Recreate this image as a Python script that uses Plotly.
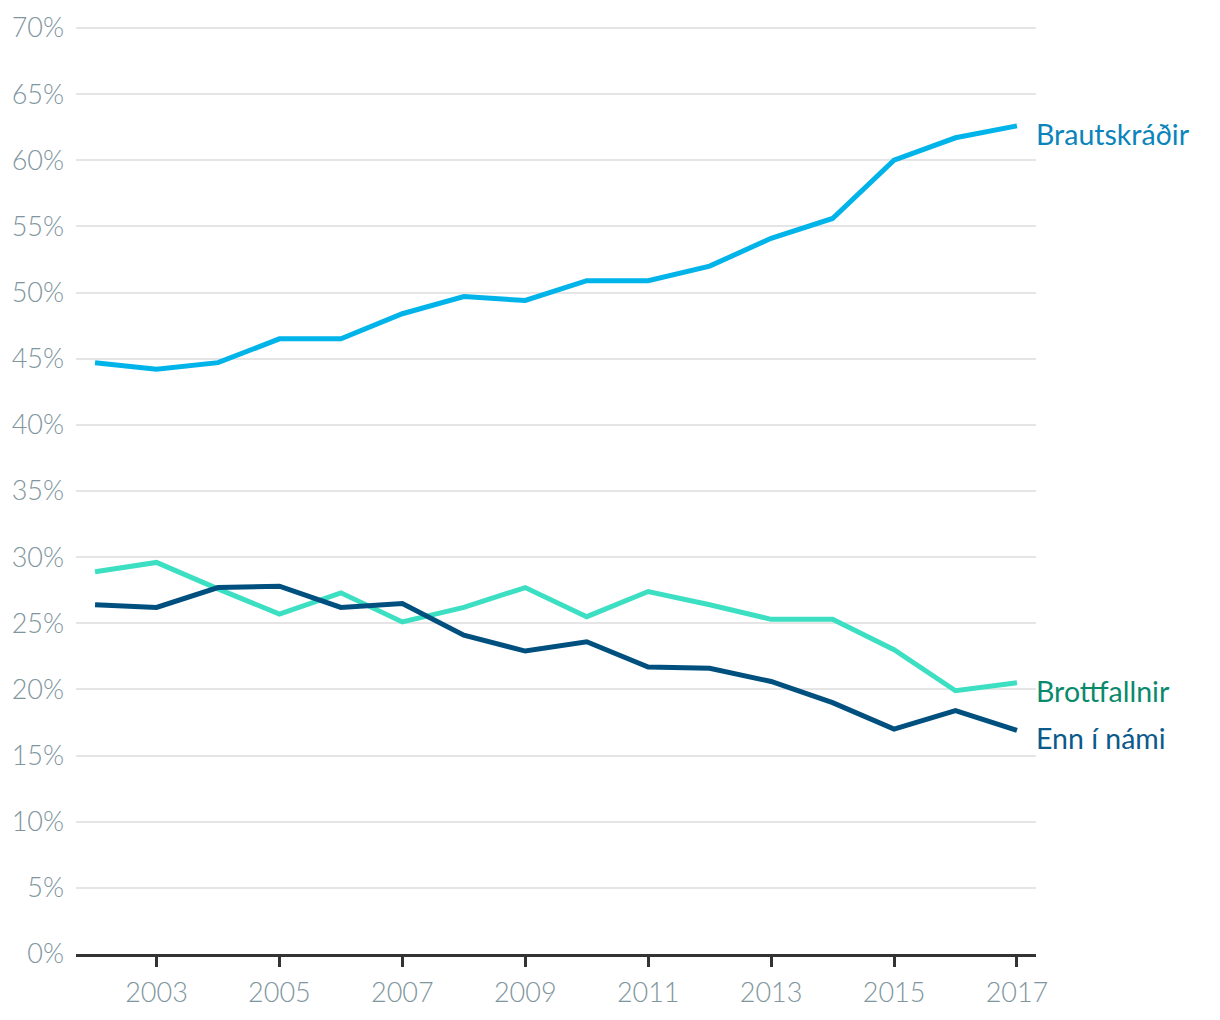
import plotly.graph_objects as go

years = list(range(2002, 2018))
brautskradir = [44.7, 44.2, 44.7, 46.5, 46.5, 48.4, 49.7, 49.4, 50.9, 50.9, 52.0, 54.1, 55.6, 60.0, 61.7, 62.6]
brottfallnir = [28.9, 29.6, 27.6, 25.7, 27.3, 25.1, 26.2, 27.7, 25.5, 27.4, 26.4, 25.3, 25.3, 23.0, 19.9, 20.5]
enn_i_nami = [26.4, 26.2, 27.7, 27.8, 26.2, 26.5, 24.1, 22.9, 23.6, 21.7, 21.6, 20.6, 19.0, 17.0, 18.4, 16.9]

series = [
    ("Brautskráðir", brautskradir, "#00b4ea", "#0a84bb"),
    ("Brottfallnir", brottfallnir, "#3ddfc3", "#0a8a6c"),
    ("Enn í námi", enn_i_nami, "#00507f", "#0b5a8b"),
]

y_ticks = list(range(0, 75, 5))
y_tick_labels = [f"{v}%" for v in y_ticks]
x_ticks = list(range(2003, 2018, 2))

fig = go.Figure()
for name, vals, lc, tc in series:
    fig.add_trace(go.Scatter(x=years, y=vals, mode="lines", name=name,
                             line=dict(color=lc, width=5), showlegend=False))
    fig.add_annotation(x=years[-1], y=vals[-1], text=name, showarrow=False,
                       xanchor="left", yanchor="middle", xshift=17, yshift=-8,
                       font=dict(family="Lato", size=28.5, color=tc))

fig.update_layout(
    width=1204, height=1004,
    margin=dict(l=68, r=176, t=18, b=58),
    plot_bgcolor="white", paper_bgcolor="white",
    font=dict(family="Lato"),
)
fig.update_xaxes(
    range=[2001.69, 2017.31], tickvals=x_ticks, ticktext=[str(v) for v in x_ticks],
    showgrid=False, zeroline=False, showline=True, linecolor="#333333", linewidth=2.5,
    ticks="outside", ticklen=10, tickwidth=2.5, tickcolor="#333333",
    ticklabelstandoff=3, automargin=False,
    tickfont=dict(family="Lato", size=27, color="#7f969e", weight=300),
)
fig.update_yaxes(
    range=[0, 70.15], tickvals=y_ticks, ticktext=y_tick_labels,
    showgrid=True, gridcolor="#e5e5e5", gridwidth=1.5, zeroline=False, showline=False,
    ticks="", ticklabelstandoff=11, automargin=False,
    tickfont=dict(family="Lato", size=27, color="#7f969e", weight=300),
)

fig.write_html("out.html")
